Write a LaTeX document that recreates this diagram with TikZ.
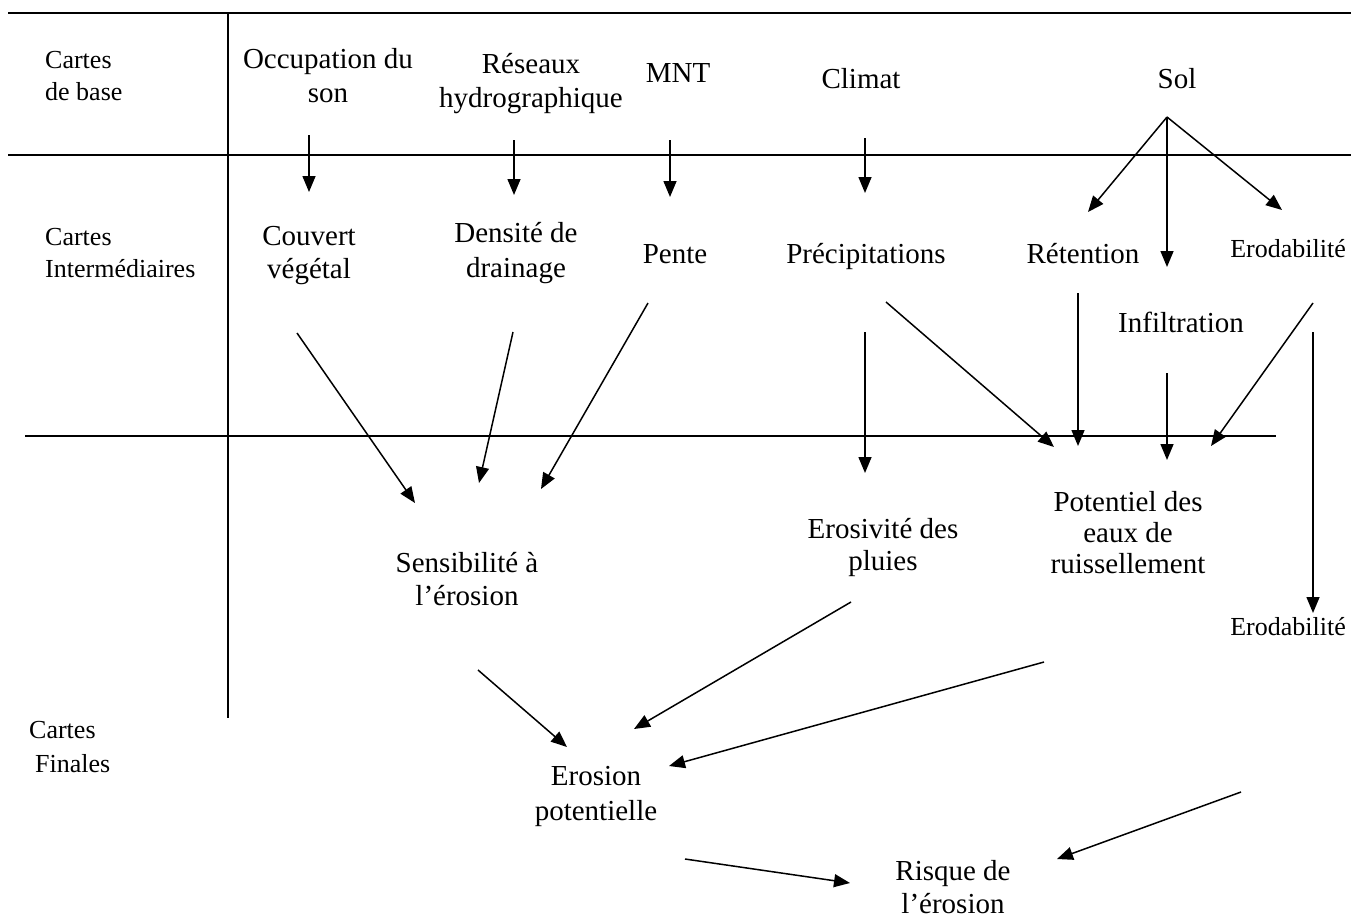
\documentclass[tikz,border=0pt]{standalone}
\usepackage{fontspec}
\setmainfont{Liberation Serif}
\usetikzlibrary{arrows.meta}
\tikzset{
  txt/.style={inner sep=0pt, align=center, anchor=base, font=\fontsize{29}{33}\selectfont},
  ltxt/.style={inner sep=0pt, align=left, anchor=base west, font=\fontsize{26}{32}\selectfont},
  stxt/.style={inner sep=0pt, align=center, anchor=base, font=\fontsize{26}{30}\selectfont},
  rule/.style={line width=1.8pt},
  arr/.style={line width=1.5pt, -{Triangle[length=16pt,width=13pt]}},
}
\begin{document}
\begin{tikzpicture}[x=1pt,y=-1pt]
\useasboundingbox (0,0) rectangle (1362,922);
% frame lines
\coordinate (h1a) at (8,13);   \coordinate (h1b) at (1351,13);
\coordinate (h2a) at (8,155);  \coordinate (h2b) at (1351,155);
\coordinate (h3a) at (25,436); \coordinate (h3b) at (1276,436);
\coordinate (v1a) at (228,13); \coordinate (v1b) at (228,718);
\draw[rule] (h1a) -- (h1b);
\draw[rule] (h2a) -- (h2b);
\draw[rule] (h3a) -- (h3b);
\draw[rule] (v1a) -- (v1b);
% row labels (anchor = baseline of last line)
\node[ltxt] (lbase) at (45,100) {Cartes\\de base};
\node[ltxt] (linter) at (45,277) {Cartes\\Intermédiaires};
\node[ltxt, font=\fontsize{26}{34}\selectfont] (lfin) at (29,772) {Cartes\\\hspace*{6pt}Finales};
% base maps
\node[txt, font=\fontsize{29}{34}\selectfont] (occ) at (328,102) {Occupation du\\son};
\node[txt, font=\fontsize{29}{34}\selectfont] (res) at (531,107) {Réseaux\\hydrographique};
\node[txt] (mnt) at (678,82) {MNT};
\node[txt] (cli) at (861,88) {Climat};
\node[txt] (sol) at (1177,88) {Sol};
% intermediate maps
\node[txt] (cou) at (309,278) {Couvert\\végétal};
\node[txt, font=\fontsize{29}{35}\selectfont] (den) at (516,277) {Densité de\\drainage};
\node[txt] (pen) at (675,263) {Pente};
\node[txt] (pre) at (866,263) {Précipitations};
\node[txt] (ret) at (1083,263) {Rétention};
\node[stxt] (ero1) at (1288,257) {Erodabilité};
\node[txt] (inf) at (1181,332) {Infiltration};
% final maps
\node[txt] (sen) at (467,605) {Sensibilité à\\l’érosion};
\node[txt, font=\fontsize{29}{32}\selectfont] (eros) at (883,570) {Erosivité des\\pluies};
\node[txt, font=\fontsize{29}{31}\selectfont] (pot) at (1128,573) {Potentiel des\\eaux de\\ruissellement};
\node[stxt] (ero2) at (1288,635) {Erodabilité};
\node[txt, font=\fontsize{29}{35}\selectfont] (epo) at (596,820) {Erosion\\potentielle};
\node[txt, font=\fontsize{29}{33}\selectfont] (ris) at (953,913) {Risque de\\l’érosion};
% arrow end points
\coordinate (a1s) at (309,135); \coordinate (a1e) at (309,192);
\coordinate (a2s) at (514,140); \coordinate (a2e) at (514,195);
\coordinate (a3s) at (670,140); \coordinate (a3e) at (670,197);
\coordinate (a4s) at (865,138); \coordinate (a4e) at (865,193);
\coordinate (solp) at (1167,117);
\coordinate (a5e) at (1088,212);
\coordinate (a6e) at (1167,267);
\coordinate (a7e) at (1282,210);
\coordinate (b1s) at (297,333); \coordinate (b1e) at (415,503);
\coordinate (b2s) at (513,332); \coordinate (b2e) at (479,483);
\coordinate (b3s) at (648,303); \coordinate (b3e) at (541,489);
\coordinate (b4s) at (865,332); \coordinate (b4e) at (865,473);
\coordinate (b5s) at (886,302); \coordinate (b5e) at (1054,447);
\coordinate (b6s) at (1078,293); \coordinate (b6e) at (1078,446);
\coordinate (b7s) at (1167,373); \coordinate (b7e) at (1167,460);
\coordinate (b8s) at (1313,303); \coordinate (b8e) at (1211,446);
\coordinate (b9s) at (1313,332); \coordinate (b9e) at (1313,613);
\coordinate (c1s) at (478,670); \coordinate (c1e) at (567,747);
\coordinate (c2s) at (851,602); \coordinate (c2e) at (634,729);
\coordinate (c3s) at (1044,662); \coordinate (c3e) at (669,766);
\coordinate (d1s) at (685,859); \coordinate (d1e) at (850,883);
\coordinate (d2s) at (1241,792); \coordinate (d2e) at (1057,859);
% arrows
\draw[arr] (a1s) -- (a1e);
\draw[arr] (a2s) -- (a2e);
\draw[arr] (a3s) -- (a3e);
\draw[arr] (a4s) -- (a4e);
\draw[arr] (solp) -- (a5e);
\draw[arr] (solp) -- (a6e);
\draw[arr] (solp) -- (a7e);
\draw[arr] (b1s) -- (b1e);
\draw[arr] (b2s) -- (b2e);
\draw[arr] (b3s) -- (b3e);
\draw[arr] (b4s) -- (b4e);
\draw[arr] (b5s) -- (b5e);
\draw[arr] (b6s) -- (b6e);
\draw[arr] (b7s) -- (b7e);
\draw[arr] (b8s) -- (b8e);
\draw[arr] (b9s) -- (b9e);
\draw[arr] (c1s) -- (c1e);
\draw[arr] (c2s) -- (c2e);
\draw[arr] (c3s) -- (c3e);
\draw[arr] (d1s) -- (d1e);
\draw[arr] (d2s) -- (d2e);
\end{tikzpicture}
\end{document}
